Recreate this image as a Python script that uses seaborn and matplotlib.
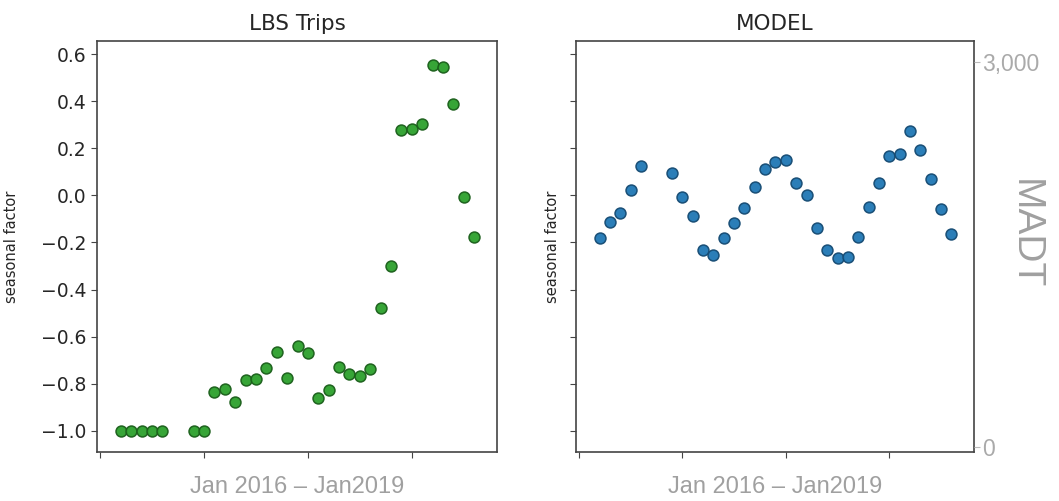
"""Seasonal factors: LBS trips vs. model, Jan 2016 - Jan 2019."""

import matplotlib

matplotlib.use("Agg")
import matplotlib.pyplot as plt
import pandas as pd
import seaborn as sns

# Month index (months 7 and 8 are missing in both series)
months = [2, 3, 4, 5, 6] + list(range(9, 37))

lbs_factor = [
    -1.0, -1.0, -1.0, -1.0, -1.0,
    -1.0, -1.0, -0.836, -0.823, -0.878, -0.785, -0.781, -0.734, -0.666,
    -0.777, -0.640, -0.670, -0.861, -0.827, -0.730, -0.759, -0.768, -0.738,
    -0.479, -0.301, 0.276, 0.280, 0.305, 0.552, 0.543, 0.386, -0.008, -0.178,
]

model_factor = [
    -0.182, -0.114, -0.076, 0.022, 0.124,
    0.094, -0.008, -0.088, -0.233, -0.254, -0.182, -0.118, -0.054, 0.035,
    0.111, 0.141, 0.150, 0.052, 0.001, -0.139, -0.233, -0.267, -0.263,
    -0.178, -0.050, 0.052, 0.167, 0.175, 0.273, 0.192, 0.069, -0.059, -0.165,
]

x_ticks = [0, 10, 20, 30]
y_ticks = [0.6, 0.4, 0.2, 0.0, -0.2, -0.4, -0.6, -0.8, -1.0]
madt_ticks = [0, 3000]

sns.set_style("ticks")
plt.rcParams["font.family"] = ["DejaVu Sans"]

df = pd.DataFrame({"month": months, "lbs": lbs_factor, "model": model_factor})

fig = plt.figure(figsize=(10.59, 5.01), dpi=100)
ax1 = fig.add_axes([0.0916, 0.0978, 0.3777, 0.8202])
ax2 = fig.add_axes([0.5439, 0.0978, 0.3758, 0.8202], sharey=ax1)

sns.scatterplot(data=df, x="month", y="lbs", ax=ax1, color="#2ca02c",
                edgecolor="#1a5e1a", linewidth=1.1, s=62, alpha=0.95)
sns.scatterplot(data=df, x="month", y="model", ax=ax2, color="#1f77b4",
                edgecolor="#154a72", linewidth=1.1, s=62, alpha=0.95)

label_font = ["Liberation Sans", "DejaVu Sans"]
for ax, title in [(ax1, "LBS Trips"), (ax2, "MODEL")]:
    ax.set_xlim(-0.3, 38.2)
    ax.set_xticks(x_ticks)
    ax.set_xticklabels([])
    ax.set_ylim(-1.09, 0.655)
    ax.set_yticks(y_ticks)
    ax.set_title(title, fontsize=15.5, pad=8)
    ax.set_ylabel("seasonal factor", fontsize=10.5)
    ax.set_xlabel("Jan 2016 – Jan2019", fontsize=17, color="#a0a0a0",
                  family=label_font, labelpad=10)
    for sp in ax.spines.values():
        sp.set_color("#444444")
        sp.set_linewidth(1.2)
    ax.tick_params(axis="both", labelsize=13.5, color="#444444", length=4)

ax1.set_yticklabels([f"{v:.1f}".replace("-", "\u2212") for v in y_ticks])
ax2.tick_params(axis="y", labelleft=False)
ax1.yaxis.set_label_coords(-0.195, 0.5)
ax2.yaxis.set_label_coords(-0.04, 0.5)

# Right-hand MADT scale
ax3 = ax2.twinx()
ax3.set_ylim(-40, 3165)
ax3.set_yticks(madt_ticks)
ax3.set_yticklabels(["0", "3,000"], family=label_font, fontsize=16.5,
                    color="#aaaaaa")
ax3.tick_params(axis="y", color="#bbbbbb", length=4, pad=2)
for sp in ax3.spines.values():
    sp.set_visible(False)
ax3.set_ylabel("MADT", fontsize=28, color="#a0a0a0", family=label_font,
               rotation=270, va="center")
ax3.yaxis.set_label_coords(1.128, 0.53)

fig.savefig("out.png", dpi=100, facecolor="white")
